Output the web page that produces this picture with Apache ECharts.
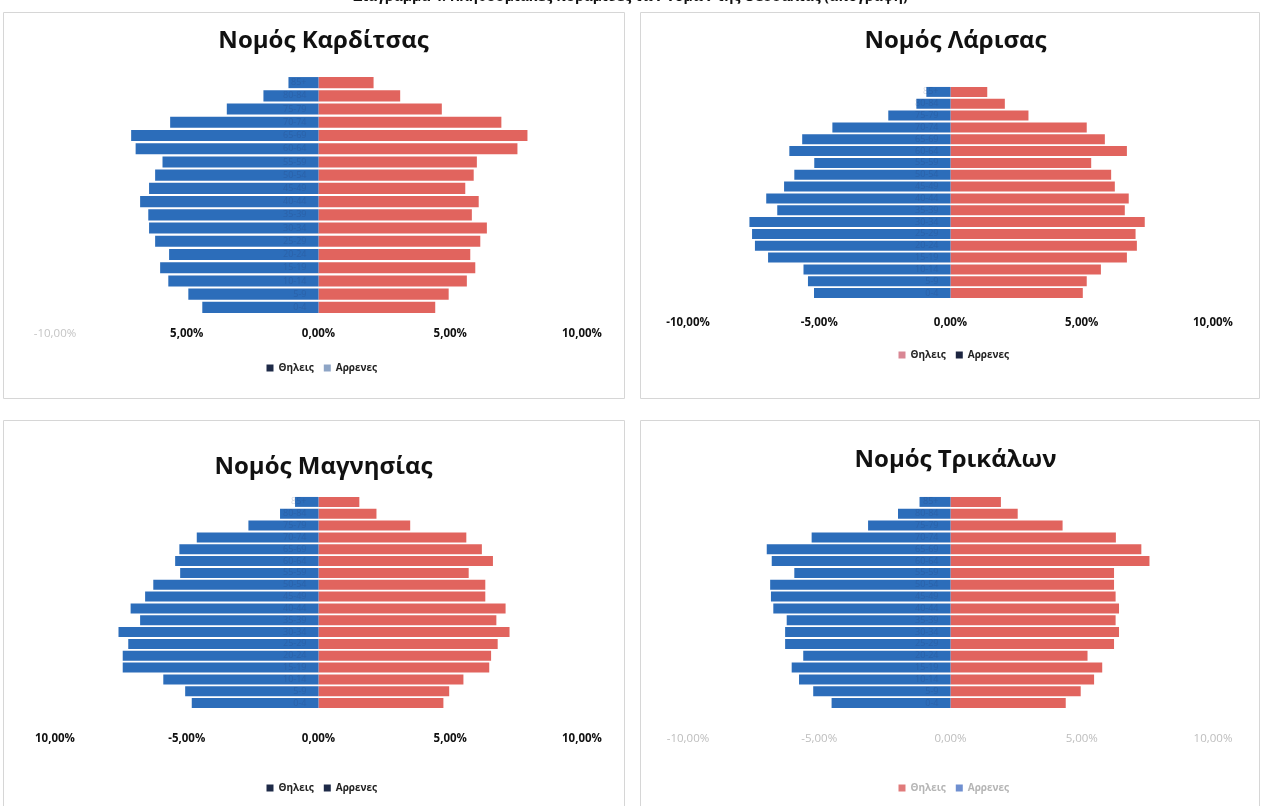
<!DOCTYPE html>
<html>
<head>
<meta charset="utf-8">
<script src="https://cdn.jsdelivr.net/npm/echarts@6/dist/echarts.min.js"></script>
<style>
html,body{margin:0;padding:0;background:#fff;}
#chart{width:1261px;height:806px;}
</style>
</head>
<body>
<div id="chart"></div>
<script>
// Age groups, bottom (youngest) to top (oldest)
const ageGroups = ['0-4','5-9','10-14','15-19','20-24','25-29','30-34','35-39','40-44','45-49','50-54','55-59','60-64','65-69','70-74','75-79','80-84','85+'];

// Percent of population per age group (males drawn to the left)
const karditsaMale   = [4.41,4.94,5.70,6.01,5.67,6.20,6.43,6.46,6.77,6.43,6.20,5.92,6.94,7.11,5.63,3.48,2.09,1.14];
const karditsaFemale = [4.43,4.94,5.63,5.95,5.76,6.14,6.39,5.82,6.08,5.57,5.89,6.01,7.55,7.93,6.94,4.68,3.10,2.09];
const larisaMale     = [5.20,5.43,5.60,6.95,7.45,7.56,7.66,6.60,7.02,6.34,5.95,5.19,6.14,5.65,4.50,2.37,1.30,0.92];
const larisaFemale   = [5.04,5.19,5.73,6.72,7.10,7.05,7.40,6.64,6.79,6.26,6.12,5.36,6.72,5.88,5.19,2.97,2.07,1.40];
const magnesiaMale   = [4.81,5.06,5.89,7.43,7.43,7.22,7.59,6.77,7.13,6.58,6.27,5.25,5.44,5.28,4.62,2.66,1.46,0.89];
const magnesiaFemale = [4.74,4.96,5.50,6.48,6.55,6.80,7.25,6.75,7.10,6.33,6.33,5.70,6.62,6.20,5.61,3.48,2.20,1.55];
const trikalaMale    = [4.53,5.23,5.77,6.05,5.61,6.30,6.30,6.24,6.75,6.84,6.87,5.95,6.81,7.00,5.29,3.14,2.00,1.18];
const trikalaFemale  = [4.39,4.96,5.47,5.78,5.22,6.23,6.42,6.29,6.42,6.29,6.23,6.23,7.58,7.27,6.30,4.27,2.56,1.92];

// Tick labels as printed in each panel
const tickValues        = [-10,-5,0,5,10];
const karditsaTicks     = ['-10,00%','5,00%','0,00%','5,00%','10,00%'];
const larisaTicks       = ['-10,00%','-5,00%','0,00%','5,00%','10,00%'];
const magnesiaTicks     = ['10,00%','-5,00%','0,00%','5,00%','10,00%'];
const trikalaTicks      = ['-10,00%','-5,00%','0,00%','5,00%','10,00%'];

const panelTitles = ['Νομός Καρδίτσας','Νομός Λάρισας','Νομός Μαγνησίας','Νομός Τρικάλων'];
const seriesNames = ['Θηλεις','Αρρενες'];

const BLUE = '#2c6dba';
const RED = '#e1645e';
const FONT = '"Open Sans", "Noto Sans", sans-serif';

const panels = [
  {title: panelTitles[0], male: karditsaMale, female: karditsaFemale, ticks: karditsaTicks,
   box: [3,12,621,386], titleY: 24, grid: {left:55, width:527, top:76, height:238}, labelMargin: 14, legendTop: 358,
   tickColor: ['#c4c4c4','#111','#111','#111','#111'], tickBold: [false,true,true,true,true],
   legendColors: ['#1e2a48','#8ea5c6'], legendText: '#222'},
  {title: panelTitles[1], male: larisaMale, female: larisaFemale, ticks: larisaTicks,
   box: [640,12,619,386], titleY: 24, grid: {left:688, width:525, top:86, height:213}, labelMargin: 18, legendTop: 345,
   tickColor: ['#111','#111','#111','#111','#111'], tickBold: [true,true,true,true,true],
   legendColors: ['#d98794','#1c2540'], legendText: '#222'},
  {title: panelTitles[2], male: magnesiaMale, female: magnesiaFemale, ticks: magnesiaTicks,
   box: [3,420,621,392], titleY: 450, grid: {left:55, width:527, top:496, height:213}, labelMargin: 24, legendTop: 778,
   tickColor: ['#111','#111','#111','#111','#111'], tickBold: [true,true,true,true,true],
   legendColors: ['#1e2a48','#1e2a48'], legendText: '#222'},
  {title: panelTitles[3], male: trikalaMale, female: trikalaFemale, ticks: trikalaTicks,
   box: [640,420,619,392], titleY: 443, grid: {left:688, width:525, top:496, height:213}, labelMargin: 24, legendTop: 778,
   tickColor: ['#bdbdbd','#bdbdbd','#bdbdbd','#bdbdbd','#bdbdbd'], tickBold: [false,false,false,false,false],
   legendColors: ['#e07a7a','#6f8fd0'], legendText: '#b5b5b5'}
];

const chart = echarts.init(document.getElementById('chart'), null, {renderer: 'canvas'});

const option = {
  backgroundColor: '#ffffff',
  animation: false,
  title: [],
  legend: [],
  grid: [],
  xAxis: [],
  yAxis: [],
  series: [],
  graphic: []
};

// Clipped heading at the very top of the page
option.graphic.push({
  type: 'text', left: 'center', top: -10, z: 10,
  style: {text: 'Διάγραμμα 4: Πληθυσμιακές πυραμίδες των νομών της Θεσσαλίας (απογραφή)', font: 'bold 14px ' + FONT, fill: '#111'}
});

panels.forEach((p, i) => {
  option.graphic.push({
    type: 'rect', shape: {x: p.box[0] + 0.5, y: p.box[1] + 0.5, width: p.box[2], height: p.box[3]},
    style: {fill: '#fff', stroke: '#d6d6d6', lineWidth: 1}, z: -10, silent: true
  });
  const cx = p.grid.left + p.grid.width / 2;
  option.title.push({
    text: p.title, left: cx, top: p.titleY, textAlign: 'center',
    textStyle: {fontFamily: FONT, fontWeight: 'bold', fontSize: 24, color: '#111'}
  });
  option.grid.push({left: p.grid.left, top: p.grid.top, width: p.grid.width, height: p.grid.height, containLabel: false});
  option.xAxis.push({
    type: 'value', gridIndex: i, min: -10, max: 10, interval: 5,
    splitLine: {show: false}, axisLine: {show: false}, axisTick: {show: false},
    axisLabel: {
      margin: p.labelMargin,
      formatter: function (v) {
        const k = tickValues.indexOf(Math.round(v));
        return '{t' + k + '|' + p.ticks[k] + '}';
      },
      rich: Object.fromEntries(tickValues.map((t, k) => ['t' + k, {
        color: p.tickColor[k], fontWeight: p.tickBold[k] ? 'bold' : 'normal',
        fontFamily: FONT, fontSize: 11.5
      }]))
    }
  });
  option.yAxis.push({
    type: 'category', gridIndex: i, data: ageGroups, z: 5,
    offset: -p.grid.width / 2,
    axisLine: {show: false}, axisTick: {show: false},
    axisLabel: {margin: 12, fontSize: 9, fontFamily: FONT, color: 'rgba(40,60,110,0.22)'}
  });
  option.legend.push({
    left: cx - 57, top: p.legendTop, orient: 'horizontal', itemWidth: 7, itemHeight: 7, itemGap: 10,
    textStyle: {fontFamily: FONT, fontSize: 10, fontWeight: 'bold', color: p.legendText},
    data: [
      {name: seriesNames[0], icon: 'rect', itemStyle: {color: p.legendColors[0]}},
      {name: seriesNames[1], icon: 'rect', itemStyle: {color: p.legendColors[1]}}
    ],
    selectedMode: false
  });
  option.series.push({
    name: seriesNames[0], type: 'bar', xAxisIndex: i, yAxisIndex: i,
    data: p.female, barCategoryGap: '16%', barGap: '-100%',
    itemStyle: {color: RED}
  });
  option.series.push({
    name: seriesNames[1], type: 'bar', xAxisIndex: i, yAxisIndex: i,
    data: p.male.map(v => -v), barCategoryGap: '16%', barGap: '-100%',
    itemStyle: {color: BLUE}
  });
});

chart.setOption(option);
</script>
</body>
</html>
